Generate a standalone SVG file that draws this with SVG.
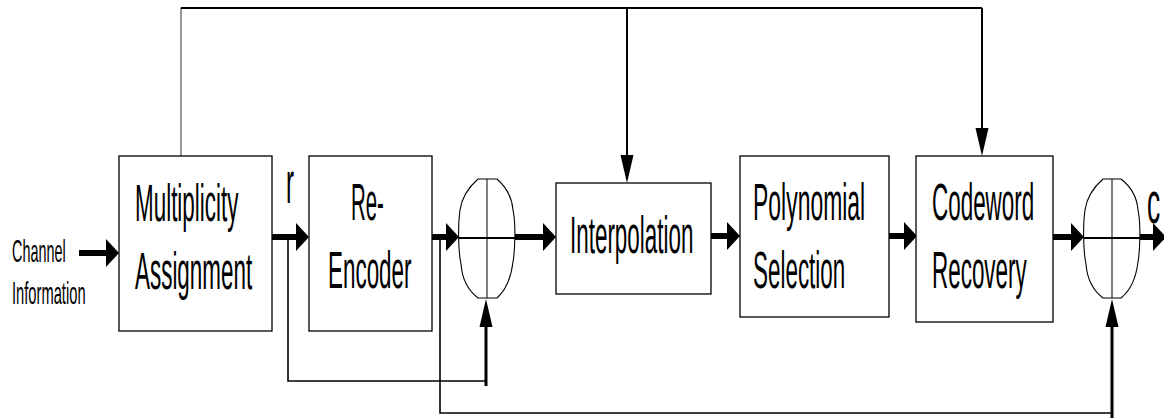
<svg xmlns="http://www.w3.org/2000/svg" width="1164" height="420" viewBox="0 0 1164 420">
  <style>
    .box { fill: #fff; stroke: #000; stroke-width: 1.3; }
    .sum { fill: #fff; stroke: #000; stroke-width: 1.1; }
    .cross { stroke: #000; stroke-width: 1; }
    .crossH { stroke: #000; stroke-width: 2; }
    .lbl { font-family: "Liberation Sans", Arial, sans-serif; font-size: 51px; fill: #000; }
    .big { font-family: "Liberation Sans", Arial, sans-serif; font-size: 60px; fill: #000; }
    .small { font-family: "Liberation Sans", Arial, sans-serif; font-size: 32px; fill: #000; }
    .flow { fill: none; stroke: #000; stroke-width: 6; marker-end: url(#bigHead); }
    .thin { fill: none; stroke: #000; stroke-width: 1.6; }
    .feed { fill: none; stroke: #000; stroke-width: 3; marker-end: url(#smallHead); }
    .down { fill: none; stroke: #000; stroke-width: 2; marker-end: url(#smallHead); }
  </style>
  <defs>
    <marker id="bigHead" markerUnits="userSpaceOnUse" markerWidth="14" markerHeight="28" refX="0" refY="14" orient="auto" overflow="visible">
      <path d="M0,0 L13,14 L0,28 Z" fill="#000"/>
    </marker>
    <marker id="smallHead" markerUnits="userSpaceOnUse" markerWidth="29" markerHeight="13" refX="0" refY="6.5" orient="auto" overflow="visible">
      <path d="M0,0 L28,6.5 L0,13 Z" fill="#000"/>
    </marker>
  </defs>

  <!-- connectors -->
  <g id="connectors">
    <!-- top distribution bus -->
    <polyline points="181,156 181,8 982,8" fill="none" stroke="#555" stroke-width="1.2"/>
    <line x1="181" y1="8" x2="982" y2="8" stroke="#000" stroke-width="2"/>
    <line class="down" x1="627" y1="8" x2="627" y2="155"/>
    <line class="down" x1="982" y1="8" x2="982" y2="128"/>

    <!-- main forward path -->
    <line class="flow" x1="79" y1="253" x2="106" y2="253"/>
    <line class="flow" x1="271" y1="237" x2="296" y2="237"/>
    <line class="flow" x1="430" y1="237" x2="446" y2="237"/>
    <line class="flow" x1="515" y1="237" x2="543" y2="237"/>
    <line class="flow" x1="711" y1="236" x2="727" y2="236"/>
    <line class="flow" x1="889" y1="236" x2="904" y2="236"/>
    <line class="flow" x1="1053" y1="237" x2="1071" y2="237"/>
    <line class="flow" x1="1140" y1="237" x2="1153" y2="237"/>

    <!-- feedback taps -->
    <polyline class="thin" points="288,237 288,381 486,381"/>
    <line class="feed" x1="486" y1="386" x2="486" y2="327"/>
    <polyline class="thin" points="440,237 440,413 1112,413"/>
    <line class="feed" x1="1112" y1="418" x2="1112" y2="327"/>
  </g>

  <g id="channel-info">
    <text class="small" transform="matrix(0.45 0 0 1 12 262)">Channel</text>
    <text class="small" transform="matrix(0.46 0 0 1 12 304)">Information</text>
  </g>

  <g id="multiplicity">
    <rect class="box" x="119" y="156" width="153" height="175"/>
    <text class="lbl" transform="matrix(0.44 0 0 1 135 221)">Multiplicity</text>
    <text class="lbl" transform="matrix(0.44 0 0 1 135 289)">Assignment</text>
  </g>

  <g id="label-r">
    <text class="big" transform="matrix(0.4 0 0 1 286 203)">r</text>
  </g>

  <g id="re-encoder">
    <rect class="box" x="309" y="156" width="123" height="175"/>
    <text class="lbl" transform="matrix(0.4 0 0 1 351 220)">Re-</text>
    <text class="lbl" transform="matrix(0.44 0 0 1 328 288)">Encoder</text>
  </g>

  <g id="adder-1">
    <path class="sum" d="M478,179 L497,179 C505,186 512,197 513,210 C516,224 515,250 513,262 C511,278 506,290 497,298 L478,298 C469,291 462,279 461,264 C458,250 458,224 460,210 C462,196 470,186 478,179 Z"/>
    <line class="cross" x1="487" y1="179" x2="487" y2="298"/>
    <line class="crossH" x1="459" y1="238" x2="515" y2="238"/>
  </g>

  <g id="interpolation">
    <rect class="box" x="556" y="183" width="155" height="111"/>
    <text class="lbl" transform="matrix(0.44 0 0 1 570 253)">Interpolation</text>
  </g>

  <g id="polynomial-selection">
    <rect class="box" x="740" y="156" width="149" height="161"/>
    <text class="lbl" transform="matrix(0.45 0 0 1 753 220)">Polynomial</text>
    <text class="lbl" transform="matrix(0.44 0 0 1 753 288)">Selection</text>
  </g>

  <g id="codeword-recovery">
    <rect class="box" x="916" y="156" width="137" height="166"/>
    <text class="lbl" transform="matrix(0.44 0 0 1 932 220)">Codeword</text>
    <text class="lbl" transform="matrix(0.44 0 0 1 932 288)">Recovery</text>
  </g>

  <g id="adder-2">
    <path class="sum" d="M1103,179 L1121,179 C1130,186 1137,197 1138,210 C1141,224 1140,250 1138,262 C1136,278 1131,290 1121,298 L1103,298 C1094,291 1087,279 1086,264 C1083,250 1083,224 1085,210 C1087,196 1095,186 1103,179 Z"/>
    <line class="cross" x1="1112" y1="179" x2="1112" y2="298"/>
    <line class="crossH" x1="1084" y1="238" x2="1140" y2="238"/>
  </g>

  <g id="label-c">
    <text class="big" transform="matrix(0.44 0 0 1 1147 223)">c</text>
  </g>
</svg>
